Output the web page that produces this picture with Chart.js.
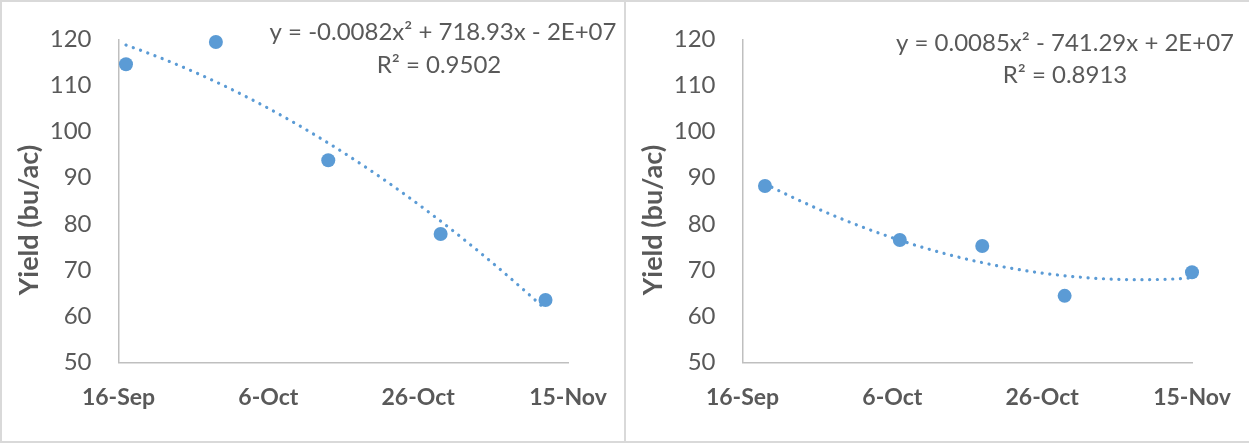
<!DOCTYPE html>
<html><head><meta charset="utf-8">
<script src="https://cdn.jsdelivr.net/npm/chart.js@4.4.1/dist/chart.umd.min.js"></script>
<style>
html,body{margin:0;padding:0;background:#fff;}
#wrap{position:relative;width:1249px;height:443px;overflow:hidden;background:#fff;}
.box{position:absolute;top:0;height:443px;box-sizing:border-box;border-top:2px solid #d9d9d9;border-bottom:2px solid #d9d9d9;}
#b1{left:0;width:626px;border-left:2px solid #d9d9d9;border-right:2px solid #d9d9d9;}
#b2{left:626px;width:623px;}
.box canvas{display:block;}
</style></head>
<body><div id="wrap"><div class="box" id="b1"><canvas id="c1" width="622" height="439"></canvas></div><div class="box" id="b2"><canvas id="c2" width="623" height="439"></canvas></div></div>
<script>
// ---- data ----
const xTickLabels = ['16-Sep', '6-Oct', '26-Oct', '15-Nov'];
const yAxisTitle = 'Yield (bu/ac)';
const yMin = 50, yMax = 120, yStep = 10;

const leftDates = ['17-Sep', '29-Sep', '14-Oct', '29-Oct', '12-Nov'];
const leftYield = [114.6, 119.4, 93.8, 77.8, 63.5];
const leftEquation = ['y = -0.0082x² + 718.93x - 2E+07', 'R² = 0.9502'];

const rightDates = ['19-Sep', '7-Oct', '18-Oct', '29-Oct', '15-Nov'];
const rightYield = [88.2, 76.5, 75.2, 64.4, 69.5];
const rightEquation = ['y = 0.0085x² - 741.29x + 2E+07', 'R² = 0.8913'];

// ---- helpers ----
const monthBase = {Sep: -16, Oct: 14, Nov: 45}; // days from 16-Sep
function dayIndex(lbl) { const [d, m] = lbl.split('-'); return monthBase[m] + parseInt(d, 10); }
function dayLabel(v) { const i = xTickLabels.findIndex(l => dayIndex(l) === v); return i >= 0 ? xTickLabels[i] : ''; }

// least-squares quadratic trendline (as in the spreadsheet trendline)
function quadFit(xs, ys) {
  let S = [0,0,0,0,0], T = [0,0,0];
  xs.forEach((x, i) => { for (let k = 0; k < 5; k++) S[k] += Math.pow(x, k); for (let k = 0; k < 3; k++) T[k] += ys[i] * Math.pow(x, k); });
  const M = [[S[0],S[1],S[2],T[0]],[S[1],S[2],S[3],T[1]],[S[2],S[3],S[4],T[2]]];
  for (let i = 0; i < 3; i++) {
    for (let j = i + 1; j < 3; j++) { const f = M[j][i] / M[i][i]; for (let k = i; k < 4; k++) M[j][k] -= f * M[i][k]; }
  }
  const r = [0,0,0];
  for (let i = 2; i >= 0; i--) { let s = M[i][3]; for (let k = i + 1; k < 3; k++) s -= M[i][k] * r[k]; r[i] = s / M[i][i]; }
  return r;
}
function trendPoints(xs, ys) {
  const [a, b, c] = quadFit(xs, ys);
  const x0 = Math.min(...xs), x1 = Math.max(...xs), pts = [];
  for (let i = 0; i <= 80; i++) { const x = x0 + (x1 - x0) * i / 80; pts.push({x, y: a + b * x + c * x * x}); }
  return pts;
}

const textPlugin = {
  id: 'eqText',
  afterDraw(chart, args, opts) {
    const ctx = chart.ctx;
    ctx.save();
    ctx.fillStyle = '#595959';
    ctx.textAlign = 'center';
    ctx.textBaseline = 'middle';
    ctx.font = '24px Lato';
    opts.lines.forEach(l => ctx.fillText(l.text, l.x, l.y));
    ctx.translate(opts.titleX, opts.titleY);
    ctx.rotate(-Math.PI / 2);
    ctx.font = 'bold 27px Lato';
    ctx.fillText(opts.title, 0, 0);
    ctx.restore();
  }
};

function makeChart(id, dates, values, eq, eqPos, canvasW) {
  const xs = dates.map(dayIndex);
  const pts = xs.map((x, i) => ({x, y: values[i]}));
  new Chart(document.getElementById(id), {
    type: 'scatter',
    data: {
      datasets: [
        {data: pts, backgroundColor: '#5b9bd5', borderWidth: 0, pointRadius: 7, pointHoverRadius: 7, order: 1, clip: false},
        {type: 'line', data: trendPoints(xs, values), borderColor: '#5b9bd5', borderWidth: 3.2, borderDash: [0.1, 7.6], borderCapStyle: 'round', pointRadius: 0, fill: false, tension: 0, order: 2, clip: false}
      ]
    },
    options: {
      responsive: false,
      animation: false,
      events: [],
      layout: {autoPadding: false, padding: {left: 0, right: canvasW - 566, top: 37.3, bottom: 0}},
      plugins: {
        legend: {display: false}, tooltip: {enabled: false},
        eqText: {lines: [{text: eq[0], x: eqPos[0], y: eqPos[1]}, {text: eq[1], x: eqPos[2], y: eqPos[3]}], title: yAxisTitle, titleX: 27, titleY: 218}
      },
      scales: {
        x: {
          type: 'linear', min: 0, max: 60,
          afterBuildTicks: s => { s.ticks = xTickLabels.map(l => ({value: dayIndex(l)})); },
          afterFit: s => { s.height = 439 - 360.3; s.paddingLeft = 0; s.paddingRight = 0; },
          grid: {display: false, drawTicks: false},
          border: {display: true, color: '#bfbfbf', width: 1.5},
          ticks: {callback: v => dayLabel(v), color: '#595959', font: {family: 'Lato', size: 23, weight: 'bold'}, padding: 21, maxRotation: 0, autoSkip: false}
        },
        y: {
          min: yMin, max: yMax,
          afterFit: s => { s.width = 116.5; s.paddingTop = 0; s.paddingBottom = 0; },
          grid: {display: false, drawTicks: false},
          border: {display: true, color: '#bfbfbf', width: 1.5},
          ticks: {stepSize: yStep, color: '#595959', font: {family: 'Lato', size: 24}, padding: 27}
        }
      }
    },
    plugins: [textPlugin]
  });
}

makeChart('c1', leftDates, leftYield, leftEquation, [441, 30, 437, 63], 622);
makeChart('c2', rightDates, rightYield, rightEquation, [439, 41, 439, 73], 623);
</script>
</body></html>
